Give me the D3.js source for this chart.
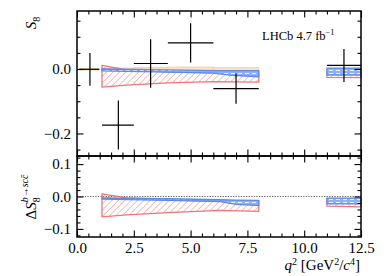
<!DOCTYPE html>
<html><head><meta charset="utf-8">
<script src="https://cdn.jsdelivr.net/npm/d3@7"></script>
<style>
html,body{margin:0;padding:0;background:#fff;}
svg{display:block;}
text{font-family:"Liberation Serif","DejaVu Serif",serif;fill:#000;}
</style></head>
<body>
<svg id="c" width="390" height="276"></svg>
<script>
// ---- data ----
const binLo = [0.1, 1.1, 2.5, 4.0, 6.0, 11.0];
const binHi = [0.98, 2.5, 4.0, 6.0, 8.0, 12.5];
const dataQ2 = [0.57, 1.82, 3.24, 5.0, 7.0, 11.75];
const dataS8 = [-0.001, -0.174, 0.017, 0.081, -0.061, 0.011];
const dataErr = [0.051, 0.076, 0.075, 0.061, 0.047, 0.051];
const smHi = [0.001, 0.003, 0.005, 0.006, 0.004, 0.0];
const smLo = [-0.003, -0.005, -0.007, -0.008, -0.010, -0.010];

// red hatched prediction (top panel)
const redQ2 = [1.1, 2.2, 4.0, 6.0, 8.0];
const redHiTop = [0.011, -0.003, -0.009, -0.012, -0.015];
const redLoTop = [-0.056, -0.050, -0.043, -0.039, -0.041];
const redQ2b = [11.0, 12.5];
const redHiTopB = [-0.009, -0.010];
const redLoTopB = [-0.026, -0.027];
// blue prediction (top panel)
const blueQ2 = [1.1, 4.0, 6.0, 6.8, 8.0];
const blueHiTop = [0.0, -0.003, -0.005, -0.005, -0.005];
const blueLoTop = [-0.006, -0.010, -0.013, -0.020, -0.024];
const blueQ2b = [11.0, 12.5];
const blueHiTopB = [0.003, 0.003];
const blueLoTopB = [-0.019, -0.019];

// bottom panel (difference)
const redQ2d = [1.1, 2.2, 4.0, 6.3, 8.0];
const redHiBot = [0.008, -0.004, -0.010, -0.015, -0.013];
const redLoBot = [-0.063, -0.057, -0.050, -0.043, -0.046];
const redHiBotB = [-0.008, -0.009];
const redLoBotB = [-0.030, -0.032];
const blueQ2d = [1.1, 4.0, 6.3, 7.0, 8.0];
const blueHiBot = [-0.004, -0.007, -0.010, -0.011, -0.012];
const blueLoBot = [-0.008, -0.012, -0.016, -0.024, -0.028];
const blueHiBotB = [-0.005, -0.005];
const blueLoBotB = [-0.023, -0.023];

const xMajor = [0, 2.5, 5.0, 7.5, 10.0, 12.5];
const xMajorLabels = ["0.0", "2.5", "5.0", "7.5", "10.0", "12.5"];
const topMajor = [-0.2, 0.0];
const topMajorLabels = ["\u22120.2", "0.0"];
const botMajor = [-0.1, 0.0, 0.1];
const botMajorLabels = ["\u22120.1", "0.0", "0.1"];

// ---- layout ----
const L = 77, R = 361, T1 = 11, B1 = 156, T2 = 156, B2 = 237;
const svg = d3.select("#c");
const x = d3.scaleLinear().domain([0, 12.5]).range([L, R]);
const yT = d3.scaleLinear().domain([-0.27, 0.18]).range([B1, T1]);
const yB = d3.scaleLinear().domain([-0.125, 0.125]).range([B2, T2]);

const defs = svg.append("defs");
const hp = defs.append("pattern").attr("id", "hatchRed").attr("patternUnits", "userSpaceOnUse")
  .attr("width", 4.5).attr("height", 4.5).attr("patternTransform", "rotate(45)");
hp.append("line").attr("x1", 0).attr("y1", 0).attr("x2", 0).attr("y2", 4.5)
  .attr("stroke", "#f07a7a").attr("stroke-width", 1);
const bp = defs.append("pattern").attr("id", "hatchBlue").attr("patternUnits", "userSpaceOnUse")
  .attr("width", 7).attr("height", 3);
bp.append("rect").attr("width", 7).attr("height", 3).attr("fill", "#8fb1f2");
bp.append("line").attr("x1", 0).attr("y1", 1.5).attr("x2", 4).attr("y2", 1.5)
  .attr("stroke", "#eef3ff").attr("stroke-width", 1);

function band(g, ys, qs, hi, lo, fill, stroke, sw, op) {
  const pts = qs.map((q, i) => ({q, h: hi[i], l: lo[i]}));
  const area = d3.area().x(d => x(d.q)).y0(d => ys(d.l)).y1(d => ys(d.h));
  g.append("path").datum(pts).attr("d", area).attr("fill", fill)
    .attr("stroke", stroke).attr("stroke-width", sw).attr("opacity", op);
}

// ---- top panel ----
const gT = svg.append("g");
// SM orange boxes
gT.selectAll("rect.sm").data(binLo.map((d, i) => i)).join("rect")
  .attr("x", i => x(binLo[i])).attr("width", i => x(binHi[i]) - x(binLo[i]))
  .attr("y", i => yT(smHi[i])).attr("height", i => yT(smLo[i]) - yT(smHi[i]))
  .attr("fill", "#fde2c6").attr("stroke", "#f6c896").attr("stroke-width", 0.8);
band(gT, yT, redQ2, redHiTop, redLoTop, "url(#hatchRed)", "#ef7676", 1.3, 1);
band(gT, yT, redQ2b, redHiTopB, redLoTopB, "url(#hatchRed)", "#ef7676", 1.3, 1);
band(gT, yT, blueQ2, blueHiTop, blueLoTop, "url(#hatchBlue)", "#5b8be6", 1.3, 1);
band(gT, yT, blueQ2b, blueHiTopB, blueLoTopB, "url(#hatchBlue)", "#5b8be6", 1.3, 1);

// data points
const idx = dataQ2.map((d, i) => i);
gT.selectAll("line.xe").data(idx).join("line")
  .attr("x1", i => x(binLo[i])).attr("x2", i => x(binHi[i]))
  .attr("y1", i => yT(dataS8[i])).attr("y2", i => yT(dataS8[i]))
  .attr("stroke", "#000").attr("stroke-width", 1.2);
gT.selectAll("line.ye").data(idx).join("line")
  .attr("x1", i => x(dataQ2[i])).attr("x2", i => x(dataQ2[i]))
  .attr("y1", i => yT(dataS8[i] + dataErr[i])).attr("y2", i => yT(dataS8[i] - dataErr[i]))
  .attr("stroke", "#000").attr("stroke-width", 1.2);

// ---- bottom panel ----
const gB = svg.append("g");
gB.append("line").attr("x1", L).attr("x2", R).attr("y1", yB(0)).attr("y2", yB(0))
  .attr("stroke", "#666").attr("stroke-width", 1).attr("stroke-dasharray", "1.3,1.3");
band(gB, yB, redQ2d, redHiBot, redLoBot, "url(#hatchRed)", "#ef7676", 1.3, 1);
band(gB, yB, redQ2b, redHiBotB, redLoBotB, "url(#hatchRed)", "#ef7676", 1.3, 1);
band(gB, yB, blueQ2d, blueHiBot, blueLoBot, "url(#hatchBlue)", "#5b8be6", 1.3, 1);
band(gB, yB, redQ2b, blueHiBotB, blueLoBotB, "url(#hatchBlue)", "#5b8be6", 1.3, 1);

// ---- axes ----
const MAJ = 6.5, MIN = 3.5;
function styleAxis(g) {
  g.attr("font-family", null);
  g.select(".domain").remove();
  g.selectAll(".tick line").attr("stroke", "#000").attr("stroke-width", 1.1);
  g.selectAll("text").style("font-family", "'Liberation Serif', serif").style("font-size", "15px");
}
const xMinor = d3.range(0, 12.51, 0.5).filter(v => Math.abs(v / 2.5 - Math.round(v / 2.5)) > 1e-6);
function xAxes(yPos, dir, labels) {
  const maj = (dir === "bottom" ? d3.axisBottom(x) : d3.axisTop(x)).tickValues(xMajor).tickSize(-MAJ).tickSizeOuter(0)
    .tickFormat((d, i) => labels ? xMajorLabels[i] : "").tickPadding(5.5);
  const mn = (dir === "bottom" ? d3.axisBottom(x) : d3.axisTop(x)).tickValues(xMinor).tickSize(-MIN).tickSizeOuter(0).tickFormat("");
  styleAxis(svg.append("g").attr("transform", `translate(0,${yPos})`).call(maj));
  styleAxis(svg.append("g").attr("transform", `translate(0,${yPos})`).call(mn));
}
xAxes(T1, "top", false);
xAxes(B1, "bottom", false);
xAxes(T2, "top", false);
xAxes(B2, "bottom", true);

function yAxes(ys, majV, majL, minV) {
  [["left", L], ["right", R]].forEach(([side, xp]) => {
    const mk = side === "left" ? d3.axisLeft : d3.axisRight;
    const maj = mk(ys).tickValues(majV).tickSize(-MAJ).tickSizeOuter(0)
      .tickFormat((d, i) => side === "left" ? majL[i] : "").tickPadding(6);
    const mn = mk(ys).tickValues(minV).tickSize(-MIN).tickSizeOuter(0).tickFormat("");
    styleAxis(svg.append("g").attr("transform", `translate(${xp},0)`).call(maj));
    styleAxis(svg.append("g").attr("transform", `translate(${xp},0)`).call(mn));
  });
}
yAxes(yT, topMajor, topMajorLabels, [-0.25, -0.15, -0.1, -0.05, 0.05, 0.1, 0.15]);
yAxes(yB, botMajor, botMajorLabels, [-0.12, -0.08, -0.06, -0.04, -0.02, 0.02, 0.04, 0.06, 0.08, 0.12]);

// frames
svg.append("rect").attr("x", L).attr("y", T1).attr("width", R - L).attr("height", B1 - T1)
  .attr("fill", "none").attr("stroke", "#000").attr("stroke-width", 1.5);
svg.append("rect").attr("x", L).attr("y", T2).attr("width", R - L).attr("height", B2 - T2)
  .attr("fill", "none").attr("stroke", "#000").attr("stroke-width", 1.5);

// ---- labels ----
const yl1 = svg.append("text").attr("transform", "translate(36,23) rotate(-90)")
  .attr("text-anchor", "middle").style("font-size", "15px");
yl1.append("tspan").style("font-style", "italic").text("S");
yl1.append("tspan").attr("dy", 4).style("font-size", "10px").text("8");

const yl2 = svg.append("text").attr("transform", "translate(36,197) rotate(-90)")
  .attr("text-anchor", "middle").style("font-size", "15px");
yl2.append("tspan").text("\u0394");
yl2.append("tspan").style("font-style", "italic").text("S");
yl2.append("tspan").attr("dy", 4).style("font-size", "10px").text("8");
yl2.append("tspan").attr("dy", -12).attr("dx", -5).style("font-size", "10px").style("font-style", "italic").text("b\u2192sc");
yl2.append("tspan").style("font-size", "10px").style("font-style", "italic").text("c\u0304");

const lh = svg.append("text").attr("x", 262).attr("y", 40).style("font-size", "12.5px");
lh.append("tspan").text("LHCb 4.7 fb");
lh.append("tspan").attr("dy", -5).style("font-size", "8.5px").text("\u22121");

const xl = svg.append("text").attr("x", 360).attr("y", 270).attr("text-anchor", "end").style("font-size", "15px");
xl.append("tspan").style("font-style", "italic").text("q");
xl.append("tspan").attr("dy", -5).style("font-size", "10px").text("2");
xl.append("tspan").attr("dy", 5).text(" [GeV");
xl.append("tspan").attr("dy", -5).style("font-size", "10px").text("2");
xl.append("tspan").attr("dy", 5).text("/");
xl.append("tspan").style("font-style", "italic").text("c");
xl.append("tspan").attr("dy", -5).style("font-size", "10px").text("4");
xl.append("tspan").attr("dy", 5).text("]");
</script>
</body></html>
